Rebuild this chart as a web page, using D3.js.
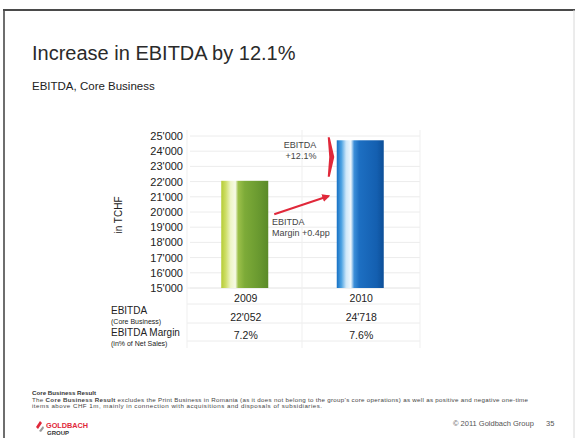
<!DOCTYPE html>
<html><head><meta charset="utf-8">
<script src="https://cdn.jsdelivr.net/npm/d3@7"></script>
<style>
body{margin:0;background:#fff}
svg{display:block}
text{font-family:"Liberation Sans",Arial,Helvetica,sans-serif}
</style></head><body>
<script>
// ---- data ----
const years = ["2009", "2010"];
const ebitda = [22052, 24718];
const marginPct = [7.2, 7.6];
const yTicks = [15000, 16000, 17000, 18000, 19000, 20000, 21000, 22000, 23000, 24000, 25000];
const rowLabels = [["EBITDA", "(Core Business)"], ["EBITDA Margin", "(in% of Net Sales)"]];
const growthNote = ["EBITDA", "+12.1%"];
const marginNote = ["EBITDA", "Margin +0.4pp"];
const title = "Increase in EBITDA by 12.1%";
const subtitle = "EBITDA, Core Business";
const unitLabel = "in TCHF";
const footTitle = "Core Business Result";
const footLine1a = "The ";
const footLine1b = "Core Business Result";
const footLine1c = " excludes the Print Business in Romania (as it does not belong to the group\u2019s core operations) as well as positive and negative one-time";
const footLine2 = "items above CHF 1m, mainly in connection with acquisitions and disposals of subsidiaries.";
const copyright = "\u00A9 2011 Goldbach Group";
const pageNo = "35";

// ---- setup ----
const W = 575, H = 438;
const svg = d3.select("body").append("svg").attr("width", W).attr("height", H);
const swiss = d3.formatLocale({decimal: ".", thousands: "'", grouping: [3], currency: ["", ""]});
const fmt = swiss.format(",d");

const y = d3.scaleLinear().domain([15000, 25000]).range([288, 136]);
const x = d3.scaleBand().domain(years).range([187, 418]).padding(0);
const barW = 47;

// gradients
const defs = svg.append("defs");
const grads = [
  [["0%", "#b6cc36"], ["10%", "#cfdf6a"], ["20%", "#eef5c8"], ["30%", "#f7fae6"], ["36%", "#9cc04a"], ["50%", "#7dab38"], ["85%", "#66962e"], ["100%", "#5a8a28"]],
  [["0%", "#1670c4"], ["10%", "#4ea3e2"], ["20%", "#cfe8f9"], ["30%", "#eef7fd"], ["37%", "#3b8ed8"], ["48%", "#1d6fc2"], ["85%", "#145fb0"], ["100%", "#0d4f98"]]
];
grads.forEach((stops, i) => {
  const g = defs.append("linearGradient").attr("id", "g" + i).attr("x1", "0%").attr("x2", "100%").attr("y1", "0%").attr("y2", "0%");
  stops.forEach(s => g.append("stop").attr("offset", s[0]).attr("stop-color", s[1]));
});
const mk = defs.append("marker").attr("id", "ah").attr("viewBox", "0 0 10 10").attr("refX", 8).attr("refY", 5)
  .attr("markerWidth", 4).attr("markerHeight", 4).attr("orient", "auto");
mk.append("path").attr("d", "M0,0L10,5L0,10z").attr("fill", "#e0283a");

// frame
svg.append("line").attr("x1", 3).attr("x2", W).attr("y1", 10).attr("y2", 10).attr("stroke", "#4a4a4a").attr("stroke-width", 2);
svg.append("line").attr("x1", 4).attr("x2", 4).attr("y1", 10).attr("y2", H).attr("stroke", "#4a4a4a").attr("stroke-width", 1.6);
svg.append("line").attr("x1", 574).attr("x2", 574).attr("y1", 10).attr("y2", H).attr("stroke", "#d8d8d8").attr("stroke-width", 1);

// titles
svg.append("text").attr("x", 32).attr("y", 60).attr("font-size", 20).attr("fill", "#2a2a2a").text(title);
svg.append("text").attr("x", 32).attr("y", 90).attr("font-size", 11.5).attr("fill", "#222").text(subtitle);

// gridlines
svg.append("g").selectAll("line").data(yTicks).join("line")
  .attr("x1", 190).attr("x2", 420).attr("y1", d => y(d)).attr("y2", d => y(d))
  .attr("stroke", "#ececec").attr("stroke-width", 1);

// y axis labels
const yAxis = d3.axisLeft(y).tickValues(yTicks).tickFormat(fmt).tickSize(0).tickPadding(0);
const ga = svg.append("g").attr("transform", "translate(183,0)").call(yAxis);
ga.select(".domain").remove();
ga.selectAll("text").attr("font-size", 11).attr("fill", "#222").attr("font-family", '"Liberation Sans",Arial,sans-serif');

svg.append("text").attr("transform", "translate(122,215) rotate(-90)").attr("text-anchor", "middle")
  .attr("font-size", 10).attr("fill", "#222").text(unitLabel);

// table lines
const tableRows = [288, 304, 323, 341];
svg.append("g").selectAll("line").data(tableRows).join("line")
  .attr("x1", 187).attr("x2", 420).attr("y1", d => d).attr("y2", d => d).attr("stroke", "#ececec");
svg.append("g").selectAll("line").data([187, 302, 420]).join("line")
  .attr("x1", d => d).attr("x2", d => d).attr("y1", 130).attr("y2", 348).attr("stroke", "#efefef");

// bars
svg.append("g").selectAll("rect").data(years).join("rect")
  .attr("x", (d, i) => x(d) + x.bandwidth() / 2 - barW / 2)
  .attr("width", barW)
  .attr("y", (d, i) => y(ebitda[i]))
  .attr("height", (d, i) => y(15000) - y(ebitda[i]))
  .attr("fill", (d, i) => `url(#g${i})`);

// table text
const colX = d => x(d) + x.bandwidth() / 2 + 1;
svg.append("g").selectAll("text").data(years).join("text")
  .attr("x", colX).attr("y", 302).attr("text-anchor", "middle").attr("font-size", 10.5).attr("fill", "#222").text(d => d);
svg.append("g").selectAll("text").data(years).join("text")
  .attr("x", colX).attr("y", 321).attr("text-anchor", "middle").attr("font-size", 10.5).attr("fill", "#222").text((d, i) => fmt(ebitda[i]));
svg.append("g").selectAll("text").data(years).join("text")
  .attr("x", colX).attr("y", 339).attr("text-anchor", "middle").attr("font-size", 10.5).attr("fill", "#222").text((d, i) => marginPct[i].toFixed(1) + "%");

// row labels
rowLabels.forEach((r, i) => {
  const by = 314 + i * 22;
  svg.append("text").attr("x", 111).attr("y", by).attr("font-size", 10).attr("fill", "#222").text(r[0]);
  svg.append("text").attr("x", 111).attr("y", by + 10).attr("font-size", 7).attr("fill", "#222").text(r[1]);
});

// growth chevron between bar tops
const cx = x(years[1]) + x.bandwidth() / 2 - barW / 2 - 9;
const yTop = y(ebitda[1]) - 3, yBot = y(ebitda[0]) - 4, yMid = (yTop + yBot) / 2;
svg.append("path").attr("d", `M${cx},${yTop}L${cx + 2},${yTop}L${cx + 6.5},${yMid}L${cx + 2},${yBot}L${cx},${yBot}L${cx + 1.5},${yMid}Z`)
  .attr("fill", "#e0283a");
svg.append("text").attr("x", 300).attr("y", 148).attr("text-anchor", "middle").attr("font-size", 9).attr("fill", "#444").text(growthNote[0]);
svg.append("text").attr("x", 301).attr("y", 159).attr("text-anchor", "middle").attr("font-size", 9).attr("fill", "#444").text(growthNote[1]);

// margin arrow
const ax1 = x(years[0]) + x.bandwidth() / 2 + barW / 2 + 6;
const ax2 = x(years[1]) + x.bandwidth() / 2 - barW / 2 - 8;
svg.append("line").attr("x1", ax1).attr("y1", y(19850)).attr("x2", ax2).attr("y2", y(21050))
  .attr("stroke", "#e0283a").attr("stroke-width", 2).attr("marker-end", "url(#ah)");
svg.append("text").attr("x", 272).attr("y", 225).attr("font-size", 9).attr("fill", "#444").text(marginNote[0]);
svg.append("text").attr("x", 272).attr("y", 236).attr("font-size", 9).attr("fill", "#444").text(marginNote[1]);

// footnote
const fs = 6.2;
svg.append("text").attr("x", 32).attr("y", 395).attr("font-size", fs).attr("font-weight", "bold").attr("fill", "#333").text(footTitle);
const t2 = svg.append("text").attr("x", 32).attr("y", 401.5).attr("font-size", fs).attr("fill", "#444")
  .attr("textLength", 496).attr("lengthAdjust", "spacing");
t2.append("tspan").text(footLine1a);
t2.append("tspan").attr("font-weight", "bold").text(footLine1b);
t2.append("tspan").text(footLine1c);
svg.append("text").attr("x", 32).attr("y", 408).attr("font-size", fs).attr("fill", "#444")
  .attr("textLength", 290).attr("lengthAdjust", "spacing").text(footLine2);

// logo
const lg = svg.append("g").attr("transform", "translate(36,421)");
lg.append("path").attr("d", "M0,6L4,0L6,2L2,8Z").attr("fill", "#e0283a");
lg.append("path").attr("d", "M3,10L7,5L8,7L5,11Z").attr("fill", "#999");
lg.append("text").attr("x", 10).attr("y", 7).attr("font-size", 8).attr("font-weight", "bold").attr("fill", "#e0283a")
  .attr("textLength", 42).attr("lengthAdjust", "spacingAndGlyphs").text("GOLDBACH");
lg.append("text").attr("x", 11).attr("y", 14).attr("font-size", 6).attr("font-weight", "bold").attr("fill", "#333").text("GROUP");

svg.append("text").attr("x", 453).attr("y", 426).attr("font-size", 7.5).attr("fill", "#555").text(copyright);
svg.append("text").attr("x", 546).attr("y", 426).attr("font-size", 7.5).attr("fill", "#555").text(pageNo);
</script>
</body></html>
